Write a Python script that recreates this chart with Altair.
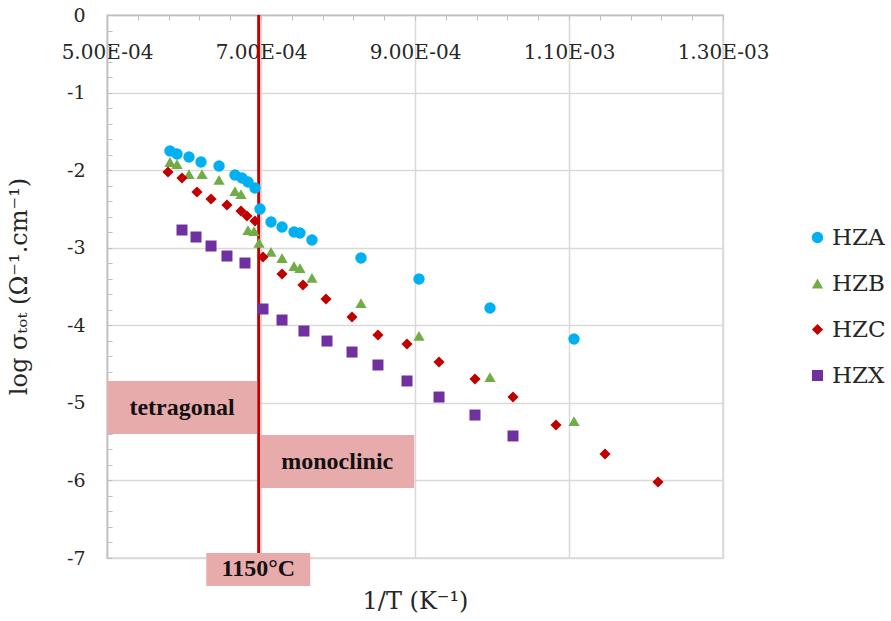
import altair as alt
import pandas as pd

# ---------------- data ----------------
series_names = ["HZA", "HZB", "HZC", "HZX"]
series_colors = ["#00B0F0", "#70AD47", "#C00000", "#7030A0"]
series_shapes = ["circle", "triangle-up", "diamond", "square"]
series_sizes = [130, 121, 100, 110]

hza_x = [0.0005818, 0.0005909, 0.0006065, 0.0006221, 0.0006455, 0.0006662, 0.0006753,
         0.0006831, 0.0006922, 0.0006987, 0.0007130, 0.0007273, 0.0007429, 0.0007506,
         0.0007662, 0.0008299, 0.0009052, 0.0009974, 0.0011065]
hza_y = [-1.753, -1.792, -1.831, -1.895, -1.947, -2.063, -2.101, -2.153, -2.230, -2.501,
         -2.669, -2.733, -2.797, -2.810, -2.901, -3.133, -3.403, -3.777, -4.177]

hzb_x = [0.0005818, 0.0005909, 0.0006065, 0.0006234, 0.0006455, 0.0006662, 0.0006740,
         0.0006831, 0.0006909, 0.0006974, 0.0007130, 0.0007273, 0.0007429, 0.0007506,
         0.0007662, 0.0008299, 0.0009052, 0.0009974, 0.0011065]
hzb_y = [-1.895, -1.921, -2.050, -2.050, -2.127, -2.269, -2.308, -2.772, -2.785, -2.939,
         -3.055, -3.133, -3.236, -3.262, -3.390, -3.713, -4.138, -4.667, -5.234]

hzc_x = [0.0005792, 0.0005974, 0.0006169, 0.0006351, 0.0006558, 0.0006740, 0.0006818,
         0.0006922, 0.0007026, 0.0007273, 0.0007545, 0.0007844, 0.0008182, 0.0008519,
         0.0008896, 0.0009312, 0.0009779, 0.0010273, 0.0010831, 0.0011468, 0.0012156]
hzc_y = [-2.024, -2.101, -2.282, -2.372, -2.449, -2.527, -2.591, -2.656, -3.120, -3.339,
         -3.481, -3.661, -3.893, -4.125, -4.241, -4.473, -4.693, -4.925, -5.286, -5.659,
         -6.020]

hzx_x = [0.0005974, 0.0006156, 0.0006351, 0.0006558, 0.0006792, 0.0007026, 0.0007273,
         0.0007558, 0.0007857, 0.0008182, 0.0008519, 0.0008896, 0.0009312, 0.0009779,
         0.0010273]
hzx_y = [-2.772, -2.862, -2.978, -3.107, -3.197, -3.790, -3.932, -4.074, -4.203, -4.345,
         -4.512, -4.718, -4.925, -5.157, -5.427]

# axis ticks / labels
x_domain = [0.0005, 0.0013]
y_domain = [-7, 0]
x_major_ticks = [0.0005, 0.0007, 0.0009, 0.0011, 0.0013]
x_tick_labels = ["5.00E-04", "7.00E-04", "9.00E-04", "1.10E-03", "1.30E-03"]
x_minor_ticks = [round(0.0005 + 0.00004 * i, 6) for i in range(21)]
y_major_ticks = [0, -1, -2, -3, -4, -5, -6, -7]
y_tick_labels = ["0", "-1", "-2", "-3", "-4", "-5", "-6", "-7"]
y_minor_ticks = [round(-7 + 0.2 * i, 1) for i in range(36)]

# phase transition line and annotation boxes
transition_x = [0.000697]
box_labels = ["tetragonal", "monoclinic", "1150°C"]
box_x1 = [0.0005, 0.000699, 0.000629]
box_x2 = [0.000695, 0.000899, 0.000764]
box_y1 = [-4.718, -5.415, -6.936]
box_y2 = [-5.402, -6.098, -7.36]

x_title = "1/T (K⁻¹)"
y_title = "log σₜₒₜ (Ω⁻¹.cm⁻¹)"

# ---------------- tables ----------------
rows = []
for name, xs, ys in zip(series_names, [hza_x, hzb_x, hzc_x, hzx_x], [hza_y, hzb_y, hzc_y, hzx_y]):
    for a, b in zip(xs, ys):
        rows.append({"x": a, "y": b, "series": name})
pts = pd.DataFrame(rows)

boxes = pd.DataFrame({"label": box_labels, "x1": box_x1, "x2": box_x2, "y1": box_y1, "y2": box_y2})
boxes["xm"] = (boxes["x1"] + boxes["x2"]) / 2
boxes["ym"] = (boxes["y1"] + boxes["y2"]) / 2
vline = pd.DataFrame({"x": transition_x})

# ---------------- styles ----------------
FONT = "DejaVu Serif"
GRID = "#d9d9d9"
TXT = "#262626"

xscale = alt.Scale(domain=x_domain, nice=False, zero=False)
yscale = alt.Scale(domain=y_domain, nice=False, zero=False)

label_expr = " : ".join(
    f"round(datum.value*100000) == {round(v * 100000)} ? '{t}'" for v, t in zip(x_major_ticks, x_tick_labels)
) + " : ''"
ylabel_expr = " : ".join(
    f"datum.value == {v} ? '{t}'" for v, t in zip(y_major_ticks, y_tick_labels)
) + " : ''"

# top axis: labels drawn below the top edge, vertical gridlines at major ticks
x_label_axis = alt.Axis(
    orient="top", values=x_major_ticks, labelExpr=label_expr,
    labelFont=FONT, labelFontSize=20, labelColor=TXT, labelPadding=-27, labelBaseline="top",
    labelFlush=False, labelOverlap=False, labelBound=False,
    ticks=False, tickSize=0,
    domain=True, domainColor="#bfbfbf", domainWidth=1.5,
    grid=True, gridColor=GRID, gridWidth=1.5,
    title=None,
)

# bottom axis: only the title
x_title_axis = alt.Axis(
    orient="bottom", labels=False, ticks=False, domain=False, grid=False,
    title=x_title, titleFont=FONT, titleFontSize=24, titleFontWeight="normal", titleColor=TXT,
    titlePadding=31,
)

# inward minor ticks at the top edge
x_tick_axis = alt.Axis(
    orient="bottom", offset=-543, values=x_minor_ticks, labels=False, domain=False,
    grid=False, ticks=True, tickSize=5, tickColor="#bfbfbf", tickWidth=1, title=None,
)

y_axis = alt.Axis(
    orient="left", values=y_major_ticks, labelExpr=ylabel_expr,
    labelFont=FONT, labelFontSize=19, labelColor=TXT, labelPadding=22,
    ticks=False, tickSize=0,
    domain=True, domainColor="#bfbfbf", domainWidth=1.5,
    grid=True, gridColor=GRID, gridWidth=1.5,
    title=y_title, titleFont=FONT, titleFontSize=24, titleFontWeight="normal", titleColor=TXT,
    titleX=-81, titleY=271, titleAngle=270, titleAlign="center", titleBaseline="alphabetic",
)

y_tick_axis = alt.Axis(
    orient="right", offset=-616, values=y_minor_ticks, labels=False, domain=False,
    grid=False, ticks=True, tickSize=5, tickColor="#bfbfbf", tickWidth=1, title=None,
)

# ---------------- layers ----------------
rule = alt.Chart(vline).mark_rule(color="#C00000", strokeWidth=3).encode(
    x=alt.X("x:Q", scale=xscale, axis=x_title_axis)
)

rects = alt.Chart(boxes).mark_rect(fill="#e8abab").encode(
    x=alt.X("x1:Q", scale=xscale, axis=x_tick_axis),
    x2="x2:Q",
    y=alt.Y("y1:Q", scale=yscale, axis=y_tick_axis),
    y2="y2:Q",
)

texts = alt.Chart(boxes).mark_text(
    font="Liberation Serif", fontWeight="bold", fontSize=24, color="#111111",
    align="center", baseline="middle",
).encode(
    x=alt.X("xm:Q", scale=xscale, axis=None),
    y=alt.Y("ym:Q", scale=yscale, axis=None),
    text="label:N",
)

points = alt.Chart(pts).mark_point(filled=True, opacity=1, strokeWidth=0).encode(
    x=alt.X("x:Q", scale=xscale, axis=x_label_axis),
    y=alt.Y("y:Q", scale=yscale, axis=y_axis),
    color=alt.Color("series:N", scale=alt.Scale(domain=series_names, range=series_colors),
                    legend=alt.Legend(title=None, orient="none", legendX=699, legendY=211,
                                      labelFont=FONT, labelFontSize=23, labelColor=TXT,
                                      symbolSize=100, symbolStrokeWidth=0, labelOffset=3,
                                      rowPadding=22, padding=0)),
    shape=alt.Shape("series:N", scale=alt.Scale(domain=series_names, range=series_shapes)),
    size=alt.Size("series:N", scale=alt.Scale(domain=series_names, range=series_sizes), legend=None),
)

chart = alt.layer(rule, rects, texts, points).properties(
    width=616, height=543,
    autosize=alt.AutoSizeParams(type="none"),
    padding={"left": 107, "top": 15, "right": 168, "bottom": 63},
).configure_view(stroke=GRID, strokeWidth=1.5)

chart.save("out.html", embed_options={"renderer": "svg", "actions": False})
